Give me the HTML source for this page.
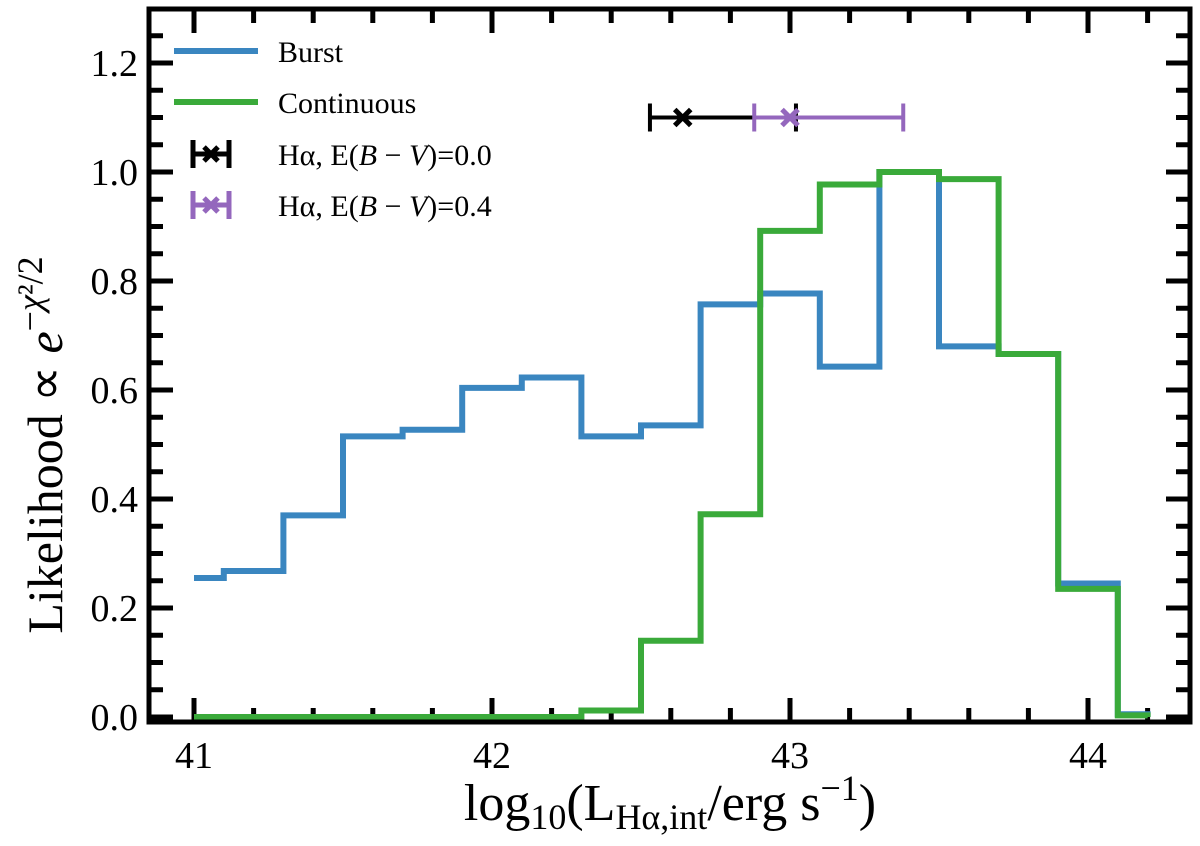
<!DOCTYPE html>
<html><head><meta charset="utf-8"><style>
body{margin:0;background:#fff;}
svg text{font-family:"Liberation Serif",serif;}
</style></head><body>
<svg id="chart" width="1200" height="841" viewBox="0 0 1200 841" xmlns="http://www.w3.org/2000/svg">
<g id="ticks"></g>
<g id="series"></g>
<rect x="149" y="9" width="1041" height="713" fill="none" stroke="#000" stroke-width="5"/>
<g id="labels"></g>
<text x="670" y="820" font-size="52" text-anchor="middle">log<tspan font-size="36" dy="9">10</tspan><tspan dy="-9">(L</tspan><tspan font-size="36" dy="9">Hα,int</tspan><tspan dy="-9">/erg s</tspan><tspan font-size="36" dy="-20">−1</tspan><tspan dy="20">)</tspan></text>
<text transform="translate(62,445) rotate(-90)" font-size="50" text-anchor="middle">Likelihood ∝ <tspan font-style="italic">e</tspan><tspan font-size="36" dy="-20">−<tspan font-style="italic">χ</tspan>²/2</tspan></text>
<g id="legend">
<g><line x1="174" y1="51" x2="258" y2="51" stroke="#3a86c0" stroke-width="6"/><text x="278" y="62" font-size="30">Burst</text></g>
<g><line x1="174" y1="102" x2="258" y2="102" stroke="#3aaa3a" stroke-width="6"/><text x="278" y="113" font-size="30">Continuous</text></g>
<g><line x1="193" y1="154" x2="229" y2="154" stroke="#000" stroke-width="5"/><line x1="193" y1="140" x2="193" y2="168" stroke="#000" stroke-width="5"/><line x1="229" y1="140" x2="229" y2="168" stroke="#000" stroke-width="5"/><path d="M204,147L218,161M204,161L218,147" stroke="#000" stroke-width="5"/><text x="278" y="165" font-size="30">Hα, E(<tspan font-style="italic">B</tspan> − <tspan font-style="italic">V</tspan>)=0.0</text></g>
<g><line x1="193" y1="205" x2="229" y2="205" stroke="#9467bd" stroke-width="5"/><line x1="193" y1="191" x2="193" y2="219" stroke="#9467bd" stroke-width="5"/><line x1="229" y1="191" x2="229" y2="219" stroke="#9467bd" stroke-width="5"/><path d="M204,198L218,212M204,212L218,198" stroke="#9467bd" stroke-width="5"/><text x="278" y="216" font-size="30">Hα, E(<tspan font-style="italic">B</tspan> − <tspan font-style="italic">V</tspan>)=0.4</text></g>
</g>
</svg>
<script>
const binEdges=[41.0,41.1,41.3,41.5,41.7,41.9,42.1,42.3,42.5,42.7,42.9,43.1,43.3,43.5,43.7,43.9,44.1,44.2];
const burstVals=[0.255,0.268,0.37,0.515,0.527,0.604,0.623,0.515,0.535,0.757,0.777,0.643,1.0,0.68,0.666,0.245,0.005];
const contVals=[0,0,0,0,0,0,0,0.012,0.14,0.372,0.892,0.977,1.0,0.987,0.666,0.235,0.003];
const errCenters=[42.64,43.0];
const errLo=[42.53,42.88];
const errHi=[43.02,43.38];
const errY=[1.1,1.1];
const errColors=["#000","#9467bd"];
const xTicks=[41,42,43,44];
const yTicks=[0.0,0.2,0.4,0.6,0.8,1.0,1.2];
const NS="http://www.w3.org/2000/svg";
const X=v=>194+(v-41)*298;
const Y=v=>717-v*545;
function mk(tag,attrs,parent){const e=document.createElementNS(NS,tag);for(const k in attrs)e.setAttribute(k,attrs[k]);parent.appendChild(e);return e;}
const tg=document.getElementById('ticks'),lg=document.getElementById('labels'),sg=document.getElementById('series');
for(let v=41;v<=44.21;v+=0.2){const x=X(v);const maj=Math.abs(v-Math.round(v))<1e-6;const L=maj?22:12;
const a=mk('line',{x1:x,y1:720,x2:x,y2:720-L,stroke:'#000','stroke-width':5},tg);
const b=mk('line',{x1:x,y1:11,x2:x,y2:11+L,stroke:'#000','stroke-width':5},tg);}
for(let i=0;i<=26;i++){const v=i*0.05;const y=Y(v);if(y<12)continue;const maj=i%4===0;const L=maj?22:12;
const a=mk('line',{x1:151,y1:y,x2:151+L,y2:y,stroke:'#000','stroke-width':5},tg);
const b=mk('line',{x1:1188,y1:y,x2:1188-L,y2:y,stroke:'#000','stroke-width':5},tg);}
xTicks.forEach(v=>{const t=mk('text',{x:X(v),y:768,'font-size':38,'text-anchor':'middle'},lg);t.textContent=v;});
yTicks.forEach(v=>{const t=mk('text',{x:138,y:Y(v)+13,'font-size':38,'text-anchor':'end'},lg);t.textContent=v.toFixed(1);});
function step(vals,color,name){let d='';vals.forEach((v,i)=>{d+=(i?'L':'M')+X(binEdges[i])+','+Y(v)+'L'+X(binEdges[i+1])+','+Y(v);});
d+='L'+X(binEdges[binEdges.length-1])+','+Y(0);
const p=mk('path',{d:d,fill:'none',stroke:color,'stroke-width':6,'stroke-linejoin':'miter'},sg);}
step(burstVals,'#3a86c0','burst-line');
step(contVals,'#3aaa3a','continuous-line');
errCenters.forEach((c,i)=>{const g=mk('g',{},sg);
const y=Y(errY[i]),col=errColors[i],cx=X(c);
mk('line',{x1:X(errLo[i]),y1:y,x2:X(errHi[i]),y2:y,stroke:col,'stroke-width':4},g);
mk('line',{x1:X(errLo[i]),y1:y-14,x2:X(errLo[i]),y2:y+14,stroke:col,'stroke-width':4},g);
mk('line',{x1:X(errHi[i]),y1:y-14,x2:X(errHi[i]),y2:y+14,stroke:col,'stroke-width':4},g);
mk('path',{d:`M${cx-8},${y-8}L${cx+8},${y+8}M${cx-8},${y+8}L${cx+8},${y-8}`,stroke:col,'stroke-width':5},g);});
</script>
</body></html>
